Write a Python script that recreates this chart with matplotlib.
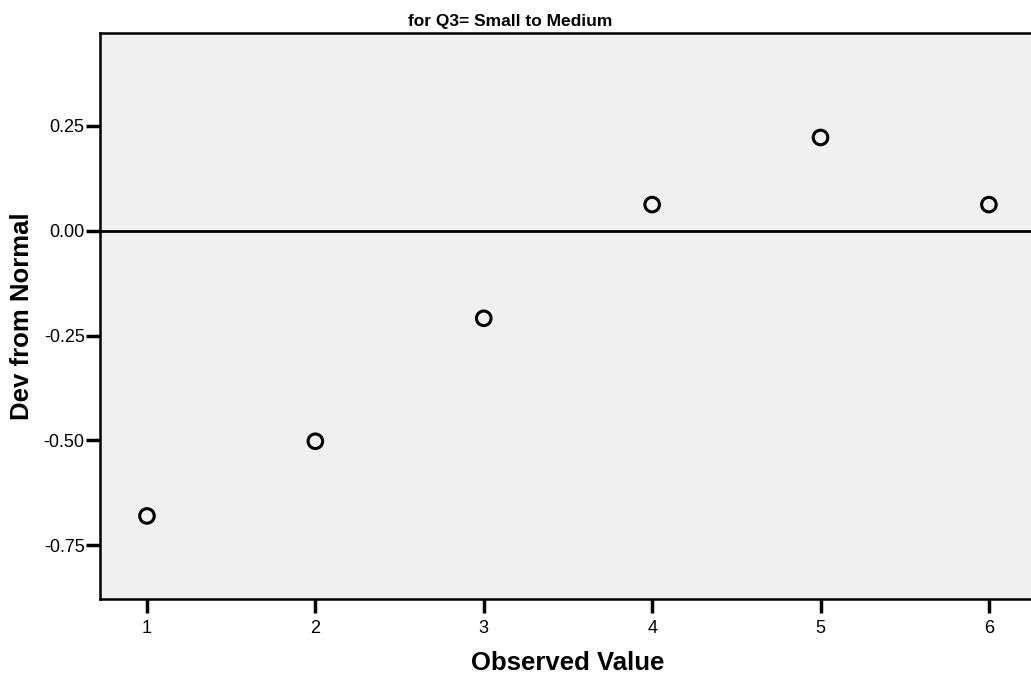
import numpy as np
import matplotlib.pyplot as plt

plt.rcParams['font.family'] = ['Liberation Sans', 'DejaVu Sans']

# Detrended normal Q-Q data
observed = [1, 2, 3, 4, 5, 6]
dev_from_normal = [-0.680, -0.502, -0.209, 0.062, 0.222, 0.062]

yticks = [0.25, 0.00, -0.25, -0.50, -0.75]
ytick_labels = ['0.25', '0.00', '-0.25', '-0.50', '-0.75']

fig = plt.figure(figsize=(10.31, 6.78), dpi=100)
ax = fig.add_axes([100 / 1031, 1 - 599 / 678, 931 / 1031, 566 / 678])
ax.set_facecolor('#f0f0f0')

ax.axhline(0, color='black', linewidth=2, zorder=1)
ax.scatter(observed, dev_from_normal, s=110, facecolors='none',
           edgecolors='black', linewidths=2.2, zorder=3)

ax.set_xlim(0.721, 6.25)
ax.set_ylim(-0.878, 0.471)
ax.set_xticks(observed)
ax.set_yticks(yticks)
ax.set_yticklabels(ytick_labels)

for side in ['left', 'bottom', 'top']:
    ax.spines[side].set_linewidth(1.8)
ax.spines['right'].set_visible(False)
ax.tick_params(direction='out', length=10, width=2.5, labelsize=13)
ax.tick_params(axis='x', pad=5)
ax.tick_params(axis='y', pad=1)

ax.set_xlabel('Observed Value', fontsize=18.5, fontweight='bold')
ax.xaxis.set_label_coords(0.502, -0.113, transform=ax.transAxes)
ax.xaxis.label.set_va('center')
ax.set_ylabel('Dev from Normal', fontsize=18.5, fontweight='bold')
ax.yaxis.set_label_coords(-0.084, 0.5, transform=ax.transAxes)
ax.yaxis.label.set_va('center')
ax.set_title('for Q3= Small to Medium', fontsize=12.5, fontweight='bold', pad=5,
             x=0.441)

fig.savefig('out.png', dpi=100)
